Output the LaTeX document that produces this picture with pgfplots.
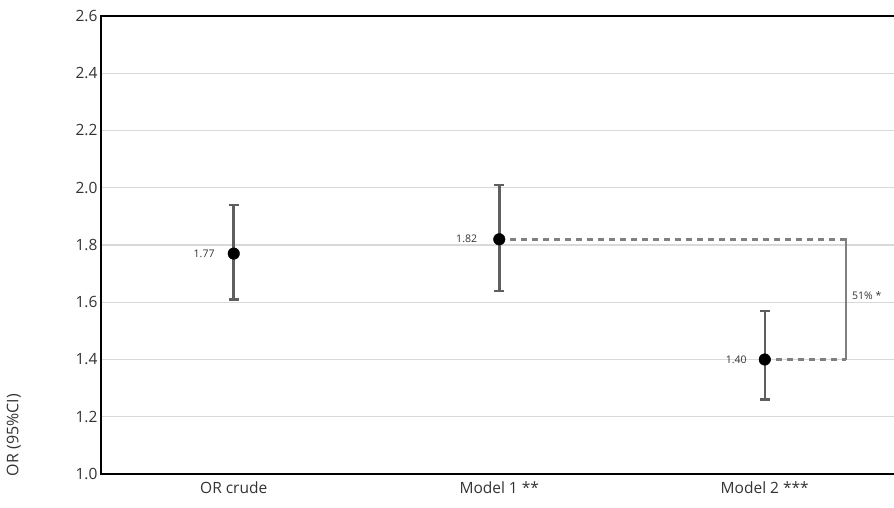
\documentclass[border=0pt]{standalone}
\usepackage{fontspec}
\setmainfont{Open Sans}
\usepackage{pgfplots}
\pgfplotsset{compat=1.18}

\definecolor{gridc}{HTML}{D9D9D9}
\definecolor{errc}{HTML}{5F5F5F}
\definecolor{dashc}{HTML}{808080}
\definecolor{txtc}{HTML}{333333}

\begin{document}
\begin{tikzpicture}
\begin{axis}[
  scale only axis, width=796.5pt, height=458pt,
  xmin=-0.5, xmax=2.5, ymin=1.0, ymax=2.6,
  ytick={1.0,1.2,1.4,1.6,1.8,2.0,2.2,2.4,2.6},
  xtick={0,1,2}, xticklabels={OR crude, Model 1 **, Model 2 ***},
  ymajorgrids, grid style={gridc, line width=1.2pt},
  major tick length=0pt,
  axis line style={black, line width=1.5pt},
  tick label style={font=\fontsize{15.5}{18}\selectfont, text=txtc},
  yticklabel style={/pgf/number format/.cd, fixed, fixed zerofill, precision=1, assume math mode=true},
  xticklabel style={yshift=-4pt},
  clip=false,
]
\addplot[dashc, line width=2.6pt, dash pattern=on 6pt off 5pt] coordinates {(1,1.82) (2.306,1.82)};
\addplot[dashc, line width=2.6pt, dash pattern=on 6pt off 5pt] coordinates {(2,1.40) (2.306,1.40)};
\addplot[dashc, line width=2.4pt] coordinates {(2.306,1.823) (2.306,1.397)};
\addplot[only marks, mark=*, mark size=5.8pt, black,
  error bars/.cd, y dir=both, y explicit,
  error bar style={errc, line width=2.5pt},
  error mark options={errc, line width=2.5pt, mark size=4.8pt, rotate=90}]
  coordinates {
  (0,1.77) += (0,0.17) -= (0,0.16)
  (1,1.82) += (0,0.19) -= (0,0.18)
  (2,1.40) += (0,0.17) -= (0,0.14)
  };
\node[anchor=east, inner sep=0, font=\fontsize{10.5}{12}\selectfont, text=txtc] at (axis cs:0,1.77) [xshift=-19pt] {1.77};
\node[anchor=east, inner sep=0, font=\fontsize{10.5}{12}\selectfont, text=txtc] at (axis cs:1,1.82) [xshift=-22pt] {1.82};
\node[anchor=east, inner sep=0, font=\fontsize{10.5}{12}\selectfont, text=txtc] at (axis cs:2,1.40) [xshift=-18pt] {1.40};
\node[anchor=west, inner sep=0, font=\fontsize{10.5}{12}\selectfont, text=txtc] at (axis cs:2.306,1.625) [xshift=6pt] {51\% *};
\node[rotate=90, inner sep=0, font=\fontsize{16}{18}\selectfont, text=txtc] at (axis cs:-0.828,1.136) {OR (95\%CI)};
\end{axis}
\pgfresetboundingbox
\useasboundingbox (current axis.south west) ++(-101pt,-34pt) rectangle ([xshift=-3.5pt, yshift=16pt]current axis.north east);
\end{tikzpicture}
\end{document}
